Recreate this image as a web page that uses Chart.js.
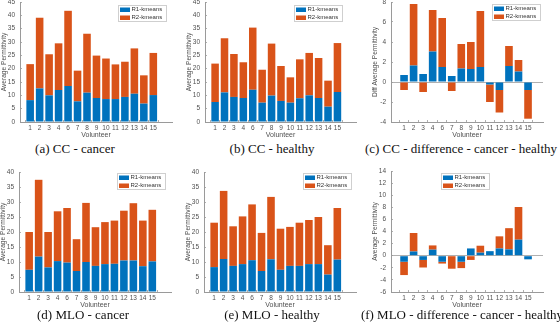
<!DOCTYPE html>
<html><head><meta charset="utf-8">
<script src="https://cdn.jsdelivr.net/npm/chart.js@4"></script>
<style>
html,body{margin:0;padding:0;background:#fff;width:560px;height:325px;overflow:hidden;position:relative}
canvas{position:absolute}
.cap{position:absolute;width:240px;text-align:center;font-family:"Liberation Serif","Times New Roman",serif;font-size:13px;line-height:16px;color:#111;white-space:nowrap}
</style></head><body>
<canvas id="ca"></canvas><canvas id="cb"></canvas><canvas id="cc"></canvas>
<canvas id="cd"></canvas><canvas id="ce"></canvas><canvas id="cf"></canvas>
<div class="cap" style="left:-45px;top:141px">(a) CC - cancer</div>
<div class="cap" style="left:152px;top:141px">(b) CC - healthy</div>
<div class="cap" style="left:341px;top:141px">(c) CC - difference - cancer - healthy</div>
<div class="cap" style="left:-37px;top:307px">(d) MLO - cancer</div>
<div class="cap" style="left:152px;top:307px">(e) MLO - healthy</div>
<div class="cap" style="left:342px;top:307px">(f) MLO - difference - cancer - healthy</div>
<script>
// ---- data ----
const volunteers = ['1','2','3','4','6','7','8','9','10','11','12','13','14','15'];
const seriesNames = ['R1-kmeans','R2-kmeans'];

const ccCancerR1  = [8.2,12.6,10.0,12.0,13.5,7.75,11.0,9.0,8.6,8.6,9.4,10.6,6.9,10.1];
const ccCancerR2  = [13.5,26.5,15.4,17.5,28.2,11.5,22.1,15.9,15.2,13.0,13.2,17.0,10.6,15.8];

const ccHealthyR1 = [7.5,11.1,9.4,9.0,12.1,7.25,9.9,7.9,7.25,8.9,10.0,9.0,5.75,11.25];
const ccHealthyR2 = [14.4,20.3,16.1,13.4,23.3,12.35,19.5,13.1,9.5,14.6,15.9,15.0,9.75,18.35];

const ccDiffR1    = [0.7,1.65,0.8,3.05,1.5,0.6,1.35,1.3,1.5,-0.25,-0.8,1.6,1.05,-0.8];
const ccDiffR2    = [-0.8,6.15,-1.0,4.15,4.9,-0.9,2.45,2.7,5.6,-1.75,-2.25,2.0,1.15,-2.87];

const mloCancerR1 = [7.4,11.8,8.2,10.3,9.8,7.0,10.0,8.7,9.3,9.4,10.5,10.5,8.6,10.2];
const mloCancerR2 = [12.6,25.6,11.8,16.6,18.2,10.6,19.7,12.9,14.0,14.4,16.6,19.1,15.2,17.2];

const mloHealthyR1 = [8.3,11.0,8.7,9.3,10.6,7.0,10.9,7.4,8.7,8.7,9.3,9.3,5.8,10.8];
const mloHealthyR2 = [14.8,22.7,13.2,15.9,18.6,12.7,20.8,13.7,13.0,14.4,14.7,15.7,9.8,17.2];

const mloDiffR1   = [-1.0,0.7,-0.7,1.0,-1.0,0,-1.0,1.2,0.5,0.75,1.2,1.05,2.65,-0.6];
const mloDiffR2   = [-2.2,3.05,-1.25,0.7,-0.3,-2.15,-1.05,-0.7,1.15,0,2.0,3.5,5.4,0];

// ---- style ----
const BLUE = '#0072BD', ORANGE = '#D95319';
const AXIS = '#9a9a9a', TXT = '#505050';
const SANS = '"Liberation Sans", Arial, Helvetica, sans-serif';
const YAXW = 20, XAXH = 17, PADT = 6, TICK = -2;

const insideLegend = {
  id: 'insideLegend',
  afterDraw(chart, args, o) {
    const ctx = chart.ctx, a = chart.chartArea;
    const x = a.left + o.dx, y = a.top + o.dy, w = 49, h = 17;
    ctx.save();
    ctx.fillStyle = '#fff';
    ctx.fillRect(x, y, w, h);
    ctx.strokeStyle = '#cfcfcf'; ctx.lineWidth = 1;
    ctx.strokeRect(x + 0.5, y + 0.5, w - 1, h - 1);
    ctx.font = '6px ' + SANS;
    ctx.textBaseline = 'middle';
    chart.data.datasets.forEach((d, i) => {
      const cy = y + 4.5 + i * 8;
      ctx.fillStyle = d.backgroundColor;
      ctx.fillRect(x + 2, cy - 2, 10, 4.5);
      ctx.fillStyle = '#333';
      ctx.fillText(d.label, x + 13.5, cy + 0.3);
    });
    ctx.restore();
  }
};

function makeChart(id, c) {
  const cv = document.getElementById(id);
  const plotW = c.right - c.left, plotH = c.bottom - c.top;
  const W = plotW + YAXW + 4, H = plotH + PADT + XAXH;
  cv.width = W; cv.height = H;
  cv.style.left = (c.left - YAXW) + 'px';
  cv.style.top = (c.top - PADT) + 'px';
  cv.style.width = W + 'px'; cv.style.height = H + 'px';
  new Chart(cv, {
    type: 'bar',
    data: {
      datasets: [
        { label: seriesNames[0], data: c.r1.map((v, i) => ({ x: i + 1, y: v })), backgroundColor: BLUE },
        { label: seriesNames[1], data: c.r2.map((v, i) => ({ x: i + 1, y: v })), backgroundColor: ORANGE }
      ]
    },
    options: {
      responsive: false, animation: false, devicePixelRatio: 1,
      layout: { padding: { left: 0, right: 4, top: PADT, bottom: 0 } },
      datasets: { bar: { categoryPercentage: 0.8, barPercentage: 1.0 } },
      plugins: { legend: { display: false }, tooltip: { enabled: false },
                 insideLegend: { dx: c.lgx, dy: c.lgy } },
      scales: {
        x: {
          type: 'linear', stacked: true, min: c.xmin, max: c.xmax,
          afterBuildTicks: s => { s.ticks = volunteers.map((_, i) => ({ value: i + 1 })); },
          ticks: { autoSkip: false, maxRotation: 0, padding: 2 - TICK, color: TXT,
                   font: { family: SANS, size: 6.5 },
                   callback: v => volunteers[v - 1] ?? '' },
          grid: { drawOnChartArea: false, drawTicks: true, tickLength: TICK, tickColor: AXIS, tickWidth: 0.8 },
          border: { color: AXIS, width: 1 },
          title: { display: true, text: 'Volunteer', color: TXT, padding: 0,
                   font: { family: SANS, size: 7 } },
          afterFit: s => { s.height = XAXH; s.paddingLeft = 0; s.paddingRight = 0; }
        },
        y: {
          stacked: true, min: c.ymin, max: c.ymax,
          ticks: { stepSize: c.step, padding: 5 - TICK, color: TXT, font: { family: SANS, size: 6.5 } },
          grid: { drawTicks: true, tickLength: TICK, tickColor: AXIS, tickWidth: 0.8,
                  color: ctx => (c.zeroLine && ctx.tick && ctx.tick.value === 0) ? '#b0b0b0' : 'rgba(0,0,0,0)' },
          border: { color: AXIS, width: 1 },
          title: { display: true, text: c.ytitle, color: TXT, padding: 0,
                   font: { family: SANS, size: 6.6 } },
          afterFit: s => { s.width = YAXW; s.paddingTop = 0; s.paddingBottom = 0; }
        }
      }
    },
    plugins: [insideLegend]
  });
}

makeChart('ca', { left: 20, right: 172, top: 2, bottom: 122, xmin: 0.5, xmax: 15.4,
  ymin: 0, ymax: 45, step: 5, ytitle: 'Average Permittivity',
  r1: ccCancerR1, r2: ccCancerR2, lgx: 98, lgy: 3 });
makeChart('cb', { left: 205, right: 356, top: 2, bottom: 122, xmin: 0.5, xmax: 15.4,
  ymin: 0, ymax: 45, step: 5, ytitle: 'Average Permittivity',
  r1: ccHealthyR1, r2: ccHealthyR2, lgx: 89, lgy: 3 });
makeChart('cc', { left: 391, right: 543, top: 2, bottom: 122, xmin: 0.2, xmax: 15.0,
  ymin: -4, ymax: 8, step: 2, ytitle: 'Diff Average Permittivity', zeroLine: true,
  r1: ccDiffR1, r2: ccDiffR2, lgx: 101, lgy: 2 });
makeChart('cd', { left: 19, right: 171, top: 172, bottom: 292, xmin: 0.5, xmax: 15.4,
  ymin: 0, ymax: 40, step: 5, ytitle: 'Average Permittivity',
  r1: mloCancerR1, r2: mloCancerR2, lgx: 98, lgy: 1 });
makeChart('ce', { left: 204, right: 356, top: 172, bottom: 292, xmin: 0.5, xmax: 15.4,
  ymin: 0, ymax: 40, step: 5, ytitle: 'Average Permittivity',
  r1: mloHealthyR1, r2: mloHealthyR2, lgx: 99, lgy: 1 });
makeChart('cf', { left: 391, right: 543, top: 171, bottom: 292, xmin: 0.2, xmax: 15.0,
  ymin: -6, ymax: 14, step: 2, ytitle: 'Average Permittivity', zeroLine: true,
  r1: mloDiffR1, r2: mloDiffR2, lgx: 50, lgy: 2 });
</script>
</body></html>
